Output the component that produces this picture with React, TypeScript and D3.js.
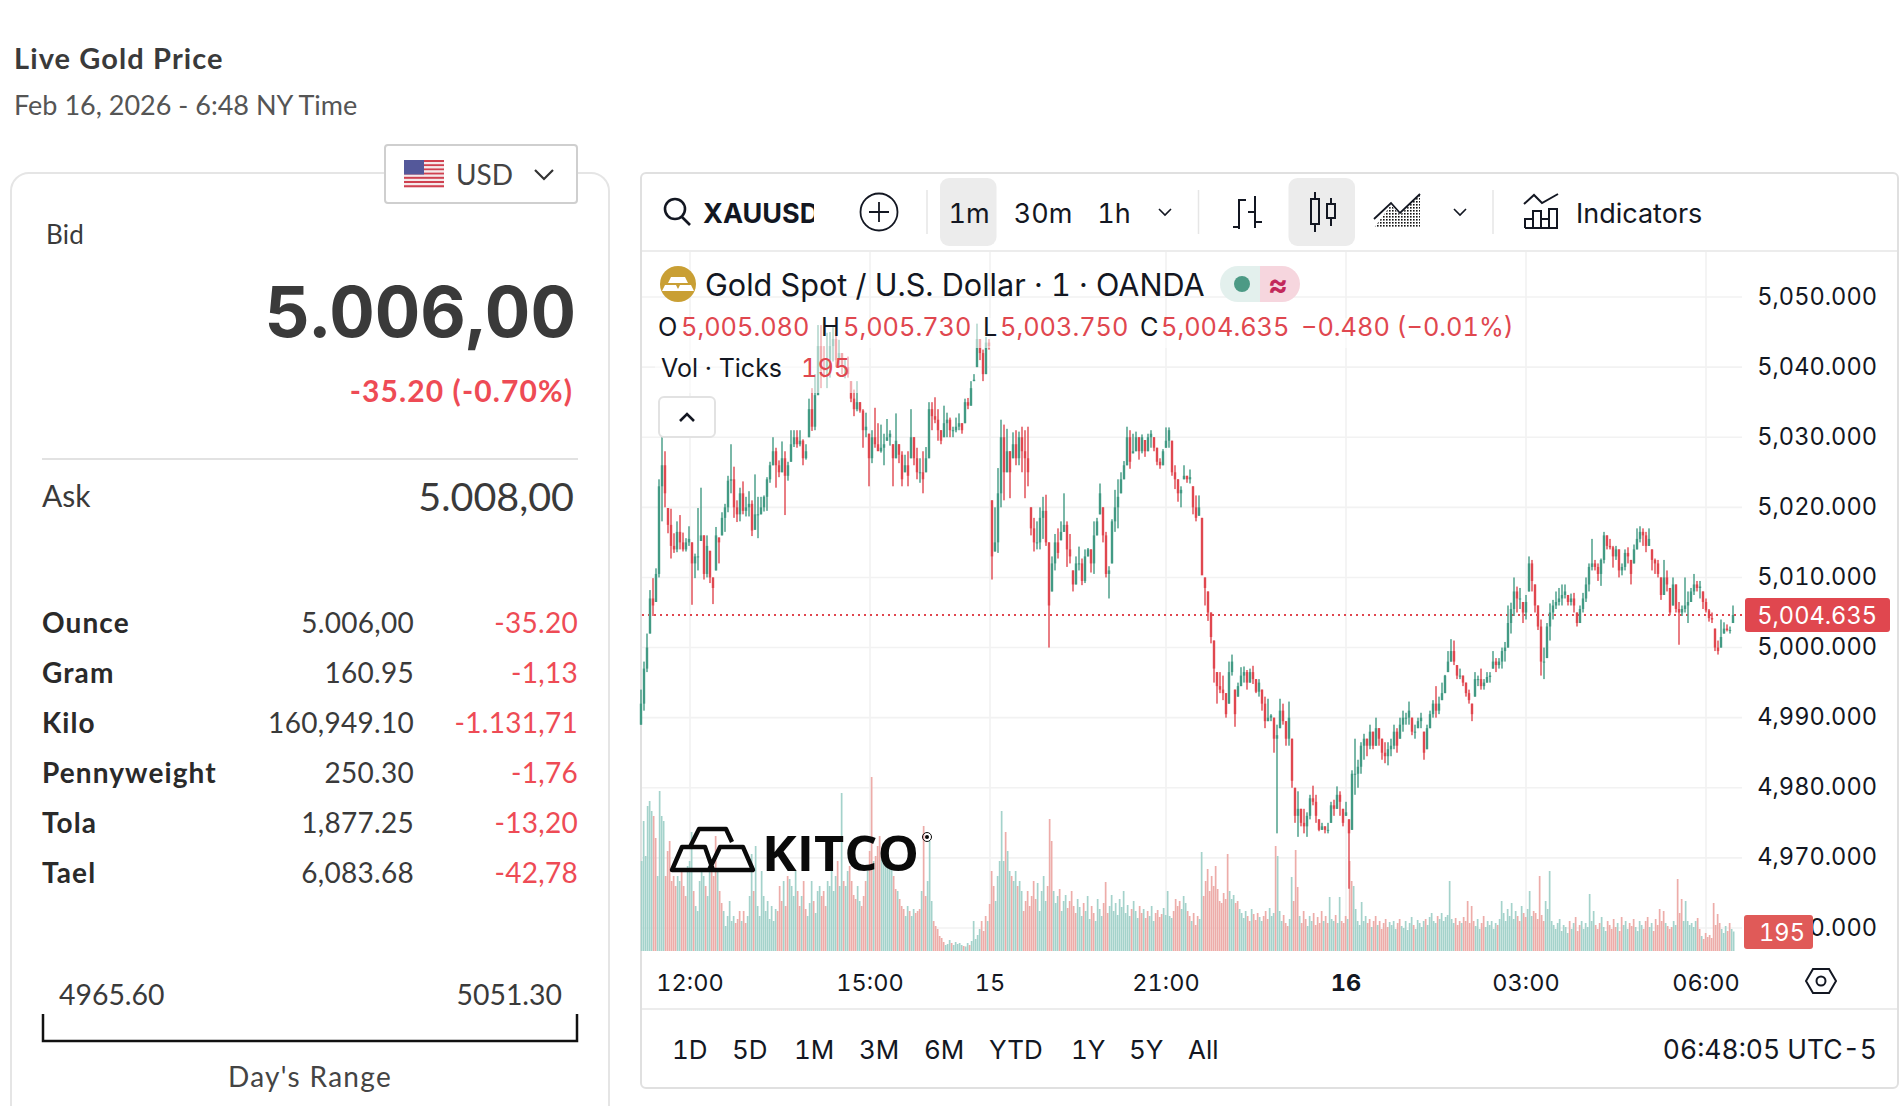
import React from "react";
import * as d3 from "d3";

// one bar every three minutes, starting at the left edge of the chart
const highs = [
  4994,4998,5002,5008.2,5009.9,5011.3,5024,5030.6,5028,5019.9,
  5019.8,5016.3,5018,5018.9,5016.4,5015.6,5017.3,5015,5013.4,5019.9,
  5022.8,5016,5016,5013.8,5010,5017.2,5015.7,5019.3,5020.5,5024.5,
  5029,5025.8,5021,5022.8,5023.7,5021.5,5022.3,5021,5024.7,5021.5,
  5021.5,5021.7,5024.3,5026.5,5030,5028.5,5026.7,5029.4,5028,5026.5,
  5031,5031,5031,5031,5029.7,5029,5035.5,5037,5039,5046,
  5046,5043,5044.9,5045,5046,5044.9,5043.9,5042,5041.3,5041.5,
  5038,5036.8,5038,5035,5034,5033.5,5030.5,5031,5034.2,5032,
  5031.8,5030.5,5032.6,5031,5029,5033.4,5029,5028,5027.5,5028,
  5034,5030,5028.5,5027,5028,5028.6,5035,5035,5035.7,5034,
  5031,5034.5,5033.5,5032.8,5031.5,5032.8,5033.4,5032,5035.5,5035.6,
  5038,5039,5046.2,5044,5042.5,5044.3,5044,5021,5020,5025.6,
  5032.5,5031.8,5031.2,5028,5030.7,5031,5030.8,5031.5,5031,5031.5,
  5020,5018.5,5018,5020,5021.5,5021.8,5015,5013,5016.2,5017,
  5018,5022,5018,5016.2,5011,5013,5014.4,5012.7,5014,5014.2,
  5014,5018,5018.5,5023.4,5020,5016.5,5011.6,5018.3,5022.5,5024,
  5025,5026.6,5031.5,5031,5030.5,5030.8,5030,5030.4,5029.6,5030.5,
  5031,5030,5028.5,5027,5028.3,5031.4,5031.4,5029.5,5026,5024,
  5023,5026,5024.5,5025.4,5023,5021.7,5021.7,5018.5,5010,5008,
  5005,5001,4996.5,4996.5,4996,4993.5,4998,4999,4994,4995,
  4997.2,4997.3,4996.8,4997,4997.4,4995.5,4995.5,4994,4993,4992.7,
  4990.5,4990,4989,4992.7,4992,4989.5,4992.3,4987,4980,4979.5,
  4977,4977,4976.5,4979,4980.3,4979,4975.5,4975,4974.5,4975,
  4978,4978.3,4980.2,4979.5,4977,4978,4975.5,4982.5,4987,4984,
  4986.5,4987.7,4987,4989,4988,4990,4988.5,4987,4986.5,4986.5,
  4987,4989,4988.5,4990,4991,4990.7,4992.3,4990,4989,4990,
  4990.7,4988,4989,4991,4992.5,4994.5,4993,4995,4996.1,4999.5,
  5001.2,5001,4997.5,4997,4996,4995,4994,4992,4996.5,4996,
  4997,4995.5,4996.5,4996.5,4999.5,4998.5,4998.5,5000,5000.8,5006,
  5006.4,5010,5008.7,5008.5,5006.5,5007.5,5013,5012.5,5009,5006,
  5004,5000,5003.5,5006.3,5006.8,5008,5008.5,5009,5009,5007.5,
  5007.7,5007.8,5005,5006,5007.8,5010,5012,5015.5,5012.5,5012,
  5012.7,5016.5,5016,5015.5,5014.5,5014.5,5014,5012,5014,5014.3,
  5012.5,5014.7,5017,5017.3,5017,5016.5,5017,5014,5012.7,5012.5,
  5010,5012.5,5011,5008.5,5010,5009,5006.5,5006,5010,5008,
  5008.5,5010.5,5009.5,5009.5,5008,5007,5005.5,5005,5002.7,5001,
  5004,5003.6,5003.3,5003,5006,
];

const lows = [
  4989,4991,4996.5,5002,5004.5,5006.5,5010,5018,5020,5016.3,
  5012.7,5013.5,5013.6,5014,5013.7,5013.7,5014.5,5006.1,5009.9,5011,
  5015.2,5009.7,5010,5009.2,5006.2,5011,5012,5016,5016.5,5019.3,
  5022,5018.5,5017.9,5018,5019,5018.7,5018.7,5015.9,5016.8,5015.6,
  5019,5019.4,5019.5,5023.5,5026,5022.8,5024.3,5025,5018.9,5023.8,
  5026.5,5028.6,5028.5,5028.7,5026,5026.8,5030,5030.9,5031,5036,
  5037,5038.5,5037,5038.5,5040.8,5040,5040,5039,5038.4,5038.5,
  5035,5033,5033.7,5033.5,5028.5,5030,5023,5026.3,5028.5,5028.9,
  5027.8,5026,5029.5,5028.8,5023,5027,5026.3,5023,5025,5023,
  5027,5026,5024,5023.5,5022,5025,5027,5031,5032,5029.5,
  5029,5030,5030,5030,5030,5030.7,5031,5030.5,5032,5034,
  5034.5,5038,5040,5041,5038,5039,5042.5,5009.7,5013.7,5013.5,
  5020,5021,5025,5021.3,5027,5026,5026,5025,5021.3,5023,
  5016,5013.7,5014,5014,5015.5,5014.5,5000,5008,5011,5012.7,
  5015.3,5016.5,5011.5,5012,5008,5009,5011,5008.9,5009.2,5013,
  5010.7,5010.5,5016,5019,5015,5010,5007,5012,5016.5,5017,
  5022,5024,5026,5025.5,5027.7,5028,5026.8,5027.7,5027.2,5028,
  5028.5,5028,5026,5025.5,5026,5028.5,5028.5,5024.5,5022.6,5020.8,
  5020,5024,5023.5,5023.4,5019,5018,5018.8,5010.4,5006,5003.8,
  5000.6,4995,4992,4993.5,4992.5,4990,4992,4996,4988.7,4993,
  4994.5,4995,4994,4995,4994.8,4993.5,4993,4991,4988.5,4989.5,
  4989.5,4985,4973.5,4988.5,4989,4986,4986,4980,4975,4973,
  4974.5,4973.5,4973,4975.5,4977.5,4975,4973.8,4974,4973.5,4973.5,
  4975,4976,4977,4976,4974.5,4976,4965.6,4974,4979,4980,
  4982,4984,4984.5,4985.5,4985.5,4986,4986,4984,4983.5,4983.2,
  4984.5,4985.5,4985,4987,4988,4989,4989,4987.5,4987,4988.5,
  4988.5,4984,4985.5,4988.5,4990,4990,4990.5,4992.5,4993.5,4996.5,
  4998,4997.5,4995.5,4995.5,4994.5,4993,4992,4989.5,4993,4994.5,
  4994,4994,4995,4995,4997,4996.5,4997,4997,4998,5000,
  5002,5004.5,5005,5005.5,5003.5,5004,5008,5008,5005,5002.5,
  4996,4995.5,4998.5,5001,5004,5005.5,5006,5006,5007,5006,
  5006,5005,5003,5003.5,5005,5006.5,5008,5011,5011,5009.5,
  5008.8,5012,5014,5014,5011.4,5012.5,5010,5010.3,5011,5012,
  5009,5012,5014,5015,5014.5,5013.6,5014.5,5011,5010.5,5010,
  5006.8,5007.5,5008,5004.6,5006,5005,5000.4,5004.5,5005,5003.5,
  5006.5,5007.5,5008,5007,5005.5,5005,5003.7,5003.5,4999.5,4999,
  5000,5002,5002.3,5002,5003.5,
];

const closes = [
  4992,4997,5000,5007,5006,5010.5,5023,5026,5022,5017.5,
  5014.5,5014,5016.5,5015,5014,5015,5015.5,5012,5013,5013,
  5016,5010.5,5014.5,5010,5008.5,5016,5015,5018.5,5020,5023.8,
  5024,5020,5019,5022,5019.5,5020,5020.5,5016.7,5019,5019,
  5020,5021.5,5024,5026,5028,5026,5025,5027,5024.5,5026,
  5029,5030,5029,5029.5,5027,5028,5034,5031.5,5036,5043,
  5040,5039.5,5041,5043,5044,5041,5042,5040,5040,5039,
  5035.5,5034,5035,5033.8,5031,5031.5,5027,5030,5029,5028,
  5028.5,5029,5030,5030.5,5027,5029.5,5027.5,5024,5026,5024.5,
  5030,5027,5025,5025,5024,5027,5034,5033,5032.5,5031,
  5029.5,5032,5032.5,5031,5031,5031.5,5032,5031,5035,5034.5,
  5037,5038.2,5044,5042,5039,5043.5,5043,5013,5015,5022,
  5030,5025,5028,5025,5029,5027,5030,5028,5027,5025,
  5017,5015,5015,5018.5,5019.5,5015,5006,5012,5015,5013.5,
  5016.5,5017.5,5014,5013,5009,5012,5012,5009.5,5013,5014,
  5012,5016,5018,5022,5016,5010.5,5011,5018,5020,5021.5,
  5024,5026,5030,5026.5,5028,5030,5028,5030,5028,5030,
  5030.5,5028.5,5026.5,5026,5028,5029.5,5031,5025,5024,5022,
  5022.5,5024.5,5024,5024.3,5020,5018.5,5020,5010.3,5008.5,5005,
  5001.5,4997,4994.5,4994,4993.5,4990.5,4996.5,4998,4990.5,4994.5,
  4996,4996.5,4995,4996.5,4995.5,4993.7,4995,4992,4989.5,4990,
  4990.3,4987,4987.5,4991,4989.5,4987,4990,4981,4976,4977,
  4975,4974.5,4976,4978.5,4978,4976,4974,4974.5,4974,4974,
  4977.5,4977,4979,4978,4975,4976.5,4973.5,4982,4982,4983,
  4986,4987,4986,4988,4986,4988.5,4987,4985,4984.5,4985.5,
  4986,4988,4986,4989,4990,4990,4991,4988,4988,4989.5,
  4990,4985,4988.5,4990.5,4992,4991,4992,4993.5,4996,4998,
  4999.5,4998,4996,4996,4995,4993.5,4992.5,4990.5,4995.5,4995.5,
  4994.5,4995,4995.8,4996,4998,4997.5,4998,4999.5,5000,5003.5,
  5005.5,5008,5007,5007,5005,5006.5,5012,5009.5,5006,5003,
  4998,4998,5003,5005,5006,5006.5,5007,5007.5,5008,5006.5,
  5007,5006,5003.5,5005.5,5007,5009,5011.5,5012,5011.5,5010.5,
  5012.5,5016,5014.5,5014.3,5013,5014,5011,5011.5,5013.5,5013,
  5010.5,5014,5015.5,5016.5,5016,5014.5,5015.5,5012.5,5012,5010.5,
  5007.5,5010,5009,5005,5009,5005.5,5005,5005.5,5006,5006.5,
  5008,5009,5008.5,5008.7,5006.5,5005.3,5004.2,5004,5000,4999.5,
  5001.5,5002.7,5002.5,5002.5,5004.635,
];

// ticks per bar, one volume bar every two minutes
const volumes = [
  900,1300,950,1450,1500,1400,1350,1130,750,1600,1350,1300,750,1000,1100,700,750,650,750,700,800,650,550,850,900,
  1190,600,450,400,700,800,750,650,550,800,850,750,1150,800,600,480,400,250,350,500,300,350,280,320,400,
  300,400,280,350,550,970,600,1050,450,350,800,550,400,500,320,450,300,420,400,650,500,700,450,750,720,
  650,550,800,600,450,550,700,420,350,480,700,500,380,600,650,550,600,450,700,650,800,600,750,900,650,
  1580,700,650,800,850,700,560,520,650,500,450,550,700,800,1000,1740,900,950,1050,1150,1000,950,1100,1000,900,
  850,750,620,600,520,450,420,350,450,400,350,420,380,400,420,600,1250,550,700,1100,500,300,250,220,150,
  130,90,60,70,110,80,60,90,70,80,60,50,45,80,60,100,300,120,160,220,300,200,350,300,470,
  800,650,500,750,900,1400,900,1190,1000,800,750,700,800,650,700,600,400,500,600,450,550,700,520,680,400,
  600,750,500,650,1320,1100,600,480,550,620,400,500,560,430,500,600,450,380,520,440,350,480,400,550,320,
  450,380,300,520,420,350,480,690,380,450,560,400,480,360,520,440,600,380,460,350,420,500,400,330,450,
  380,420,330,400,350,450,300,380,410,340,370,430,360,600,350,330,400,520,450,500,420,550,480,400,350,
  300,380,260,350,320,990,550,700,820,600,750,650,850,620,500,480,580,520,970,600,520,560,480,500,420,
  380,330,400,350,300,420,370,310,380,340,300,350,400,320,430,350,380,1050,950,400,300,360,280,250,320,
  740,500,1010,640,350,280,400,320,250,350,300,380,260,340,280,400,300,350,280,540,320,300,360,280,540,
  300,280,350,320,900,700,650,420,300,260,490,300,350,280,320,240,300,350,260,300,220,280,320,240,290,
  260,300,220,280,320,250,230,300,210,280,340,260,220,310,280,240,300,320,260,340,380,300,280,350,320,
  380,300,340,360,700,320,280,330,260,300,280,340,300,500,280,450,300,250,320,220,280,350,240,300,260,
  300,220,280,260,320,500,380,300,420,350,480,320,400,350,300,450,380,340,420,600,350,400,380,320,750,
  360,300,500,420,800,300,260,220,280,320,200,260,240,180,300,220,280,340,200,260,300,220,280,240,570,
  300,400,260,220,280,340,240,200,300,260,220,320,240,280,200,340,260,300,220,280,250,320,240,200,300,
  260,220,300,340,240,280,200,320,260,420,300,400,280,250,220,240,300,260,720,380,520,300,500,300,260,
  280,240,300,330,220,150,120,180,140,160,130,480,260,370,280,220,180,250,200,280,220,195,
];

const priceTicks = [5050, 5040, 5030, 5020, 5010, 5000, 4990, 4980, 4970, 4960];
const timeLabels = ["12:00", "15:00", "15", "21:00", "16", "03:00", "06:00"];
const timeMinutes = [49, 229, 349, 525, 705, 885, 1065];
const lastPrice = 5004.635;
const lastVolume = 195;

const unitNames = ["Ounce", "Gram", "Kilo", "Pennyweight", "Tola", "Tael"];
const unitPrices = ["5.006,00", "160.95", "160,949.10", "250.30", "1,877.25", "6,083.68"];
const unitChanges = ["-35.20", "-1,13", "-1.131,71", "-1,76", "-13,20", "-42,78"];
const ranges = ["1D", "5D", "1M", "3M", "6M", "YTD", "1Y", "5Y", "All"];
const rangeX = [672, 732, 794, 859, 924, 989, 1071, 1129, 1188];

const UP = "#429a84";
const DOWN = "#e0474f";
const RED = "#ee4b55";
const INK = "#131722";
const PANEL = "Lato, sans-serif";
const CHART = "Inter, sans-serif";

const x = d3.scaleLinear().domain([0, 1094]).range([641, 1735]);
const y = d3.scaleLinear().domain([4960, 5050]).range([928, 297]);
const yVol = d3.scaleLinear().domain([0, 1740]).range([951, 777]);
const fmt = d3.format(",.3f");

const bars = highs.map((h, i) => {
  const open = i === 0 ? lows[0] : Math.min(h, Math.max(lows[i], closes[i - 1]));
  return { i, high: h, low: lows[i], open, close: closes[i], up: closes[i] >= open };
});

const T = ({ x, y, s, f = CHART, w = 400, c = INK, a = "start", ls = 0, children }: any) => (
  <text x={x} y={y} fontSize={s} fontFamily={f} fontWeight={w} fill={c} textAnchor={a}
    letterSpacing={ls} style={f === CHART ? { fontVariantNumeric: "tabular-nums" } : undefined}>{children}</text>
);

const Flag = () => (
  <g>
    {d3.range(13).map((k) => (
      <rect key={k} x={404} y={160 + k * 2.1} width={40} height={2.1} fill={k % 2 ? "#f4e9ea" : "#cf4150"} />
    ))}
    <rect x={404} y={160} width={20} height={14.5} fill="#54589a" />
  </g>
);

const Logo = () => (
  <g>
    <path
      d="M672 870L682 847H705L713 870ZM709 870L720 847H743L753 870ZM690 847L699 829H726L732 842"
      fill="none" stroke="#0a0a0a" strokeWidth={4.4} strokeLinejoin="round" />
    <text x={762} y={871} fontSize={48} fontFamily="'Open Sans', sans-serif" fontWeight={700} fill="#0a0a0a"
      textLength={157} lengthAdjust="spacingAndGlyphs">KITCO</text>
    <circle cx={927} cy={837} r={4.5} fill="none" stroke="#0a0a0a" strokeWidth={1} />
    <circle cx={927} cy={837} r={2} fill="#0a0a0a" />
  </g>
);

const Toolbar = () => (
  <g>
    <circle cx={675} cy={209} r={10} fill="none" stroke={INK} strokeWidth={2.6} />
    <line x1={682} y1={217} x2={690} y2={225} stroke={INK} strokeWidth={2.6} />
    <clipPath id="sym"><rect x={700} y={190} width={114} height={40} /></clipPath>
    <g clipPath="url(#sym)"><T x={703} y={223} s={27} w={700}>XAUUSD</T></g>
    <circle cx={879} cy={212} r={18.5} fill="none" stroke={INK} strokeWidth={1.8} />
    <path d="M879 202V222M869 212H889" stroke={INK} strokeWidth={1.8} />
    <path d="M927 190V234M1198.5 190V234M1493 190V234" stroke="#e6e6e6" strokeWidth={1.5} />
    <rect x={940} y={178} width={56.5} height={68} rx={9} fill="#ececec" />
    <rect x={1288.5} y={178} width={66.5} height={68} rx={9} fill="#ececec" />
    <T x={969} y={223} s={27} a="middle">1m</T>
    <T x={1043} y={223} s={27} a="middle">30m</T>
    <T x={1114} y={223} s={27} a="middle">1h</T>
    <path d="M1159 209L1165 215L1171 209M1454 209L1460 215L1466 209" fill="none" stroke={INK} strokeWidth={1.6} />
    <path d="M1239 199V229M1239 200H1246M1233 227H1239M1255 196V228M1248 212H1255M1255 222H1262" fill="none" stroke={INK} strokeWidth={2} />
    <path d="M1315 192V232M1331 198V226" stroke={INK} strokeWidth={2} />
    <rect x={1311} y={199} width={8} height={25} fill="#ececec" stroke={INK} strokeWidth={2} />
    <rect x={1327} y={204} width={8} height={14} fill="#ececec" stroke={INK} strokeWidth={2} />
    <pattern id="dots" width={3} height={3} patternUnits="userSpaceOnUse">
      <rect width={1.6} height={1.6} fill="#111" />
    </pattern>
    <path d="M1374 228L1391 205L1400 215L1420 194V228Z" fill="url(#dots)" />
    <path d="M1374 219L1391 203L1400 213L1420 194" fill="none" stroke={INK} strokeWidth={1.8} />
    <path d="M1524 204L1534 195L1542 203L1558 194" fill="none" stroke={INK} strokeWidth={2} />
    <path d="M1525 228V219H1533V228M1533 228V211H1541V228M1541 228V219H1549V228M1549 228V209H1557V228ZM1525 228H1557" fill="none" stroke={INK} strokeWidth={2} />
    <T x={1576} y={223} s={27}>Indicators</T>
  </g>
);

const Legend = () => (
  <g>
    <rect x={655} y={318} width={865} height={30} fill="#fff" opacity={0.55} />
    <rect x={655} y={348} width={205} height={45} fill="#fff" opacity={0.55} />
    <circle cx={678} cy={284} r={18} fill="#c99f34" />
    <path d="M671 277H685L688 283H668ZM662 291L665 285H676L679 291ZM677 291L680 285H691L694 291Z" fill="#fff" />
    <T x={705} y={296} s={30.6}>Gold Spot / U.S. Dollar · 1 · OANDA</T>
    <path d="M1238 266H1260V302H1238A18 18 0 0 1 1238 266Z" fill="#e3f0ed" />
    <path d="M1260 266H1282A18 18 0 0 1 1282 302H1260Z" fill="#f6d6de" />
    <circle cx={1242} cy={284} r={8} fill="#4c9a85" />
    <T x={1278} y={295} s={30} c="#c2285a" a="middle" w={700}>≈</T>
    <T x={658} y={336} s={25.3}>O</T><T x={681} y={336} s={25.3} c={DOWN}>5,005.080</T>
    <T x={821} y={336} s={25.3}>H</T><T x={843} y={336} s={25.3} c={DOWN}>5,005.730</T>
    <T x={983} y={336} s={25.3}>L</T><T x={1000} y={336} s={25.3} c={DOWN}>5,003.750</T>
    <T x={1140} y={336} s={25.3}>C</T><T x={1161} y={336} s={25.3} c={DOWN}>5,004.635</T>
    <T x={1301} y={336} s={25.3} c={DOWN}>−0.480 (−0.01%)</T>
    <T x={661} y={377} s={25}>Vol · Ticks</T>
    <T x={801} y={377} s={25.3} c={DOWN}>{lastVolume}</T>
    <rect x={659} y={397} width={56} height={40} rx={5} fill="#fff" stroke="#e2e2e2" strokeWidth={2} />
    <path d="M680 421L687 414L694 421" fill="none" stroke={INK} strokeWidth={2.6} />
  </g>
);

const App = () => (
  <svg width={1904} height={1106} style={{ position: "absolute", left: 0, top: 0, display: "block" }}>
    <rect width={1904} height={1106} fill="#fff" />

    {/* left panel */}
    <T x={14} y={69} s={29} f={PANEL} w={700} c="#3a3a3a" ls={1.1}>Live Gold Price</T>
    <T x={14} y={115} s={27} f={PANEL} c="#555">Feb 16, 2026 - 6:48 NY Time</T>
    <rect x={11} y={173} width={598} height={1000} rx={18} fill="none" stroke="#e5e5e5" strokeWidth={2} />
    <rect x={385} y={145} width={192} height={58} rx={3} fill="#fff" stroke="#cfcfcf" strokeWidth={2} />
    <Flag />
    <T x={456} y={185} s={28} f={PANEL} c="#444">USD</T>
    <path d="M535 170L544 179L553 170" fill="none" stroke="#333" strokeWidth={2.2} />
    <T x={46} y={244} s={26} f={PANEL} c="#3a3a3a" ls={0.2}>Bid</T>
    <T x={576} y={337} s={70.5} f={CHART} w={700} c="#3a3a3a" a="end">5.006,00</T>
    <T x={573} y={402} s={30} f={PANEL} w={700} c={RED} a="end" ls={1.1}>-35.20 (-0.70%)</T>
    <line x1={42} x2={578} y1={459} y2={459} stroke="#e2e2e2" strokeWidth={2} />
    <T x={42} y={507} s={30} f={PANEL} c="#3a3a3a">Ask</T>
    <T x={574} y={511} s={39.5} f={PANEL} c="#3a3a3a" a="end">5.008,00</T>
    {unitNames.map((n, k) => {
      const rowY = 633 + k * 50;
      return (
        <g key={n}>
          <T x={42} y={rowY} s={28} f={PANEL} w={700} c="#2a2a2a" ls={1.1}>{n}</T>
          <T x={414} y={rowY} s={28} f={PANEL} c="#3a3a3a" a="end" ls={0.3}>{unitPrices[k]}</T>
          <T x={578} y={rowY} s={28} f={PANEL} c={RED} a="end" ls={0.3}>{unitChanges[k]}</T>
        </g>
      );
    })}
    <T x={59} y={1005} s={28.4} f={PANEL} c="#3a3a3a">4965.60</T>
    <T x={562} y={1005} s={28.4} f={PANEL} c="#3a3a3a" a="end">5051.30</T>
    <path d="M43 1014V1041H577V1014" fill="none" stroke="#111" strokeWidth={2.5} />
    <T x={310} y={1087} s={28} f={PANEL} c="#444" a="middle" ls={1.3}>Day's Range</T>

    {/* chart panel */}
    <rect x={641} y={173} width={1257} height={915} rx={5} fill="#fff" stroke="#e0e0e0" strokeWidth={2} />
    <line x1={642} x2={1897} y1={251} y2={251} stroke="#ececec" strokeWidth={2} />
    <line x1={642} x2={1897} y1={1009} y2={1009} stroke="#ececec" strokeWidth={2} />
    <Toolbar />

    {timeMinutes.map((m) => (
      <line key={m} x1={x(m)} x2={x(m)} y1={252} y2={951} stroke="#f2f2f2" strokeWidth={1.6} />
    ))}
    {priceTicks.map((p) => (
      <line key={p} x1={642} x2={1742} y1={y(p)} y2={y(p)} stroke="#f2f2f2" strokeWidth={1.6} />
    ))}

    {volumes.map((v, i) => {
      const bar = bars[Math.min(bars.length - 1, Math.floor((i * 2) / 3))];
      return (
        <rect key={i} x={x(i * 2) - 0.2} width={1.7} y={yVol(v)} height={yVol(0) - yVol(v)}
          fill={bar.up ? "#9fd0c8" : "#eca8a4"} opacity={0.95} />
      );
    })}
    <Logo />

    <line x1={642} x2={1747} y1={y(lastPrice)} y2={y(lastPrice)} stroke={DOWN} strokeWidth={2} strokeDasharray="2 4" />
    {bars.map((b) => (
      <g key={b.i} fill={b.up ? UP : DOWN}>
        <rect x={x(b.i * 3) - 0.7} width={1.4} y={y(b.high)} height={Math.max(1, y(b.low) - y(b.high))} />
        <rect x={x(b.i * 3) - 1.2} width={2.4} y={y(Math.max(b.open, b.close))}
          height={Math.max(1, Math.abs(y(b.open) - y(b.close)))} />
      </g>
    ))}

    <Legend />

    {priceTicks.map((p) => (
      <T key={p} x={1877} y={y(p) + 7.5} s={23.6} a="end">{fmt(p)}</T>
    ))}
    <rect x={1745} y={598} width={145} height={34} rx={3} fill={DOWN} />
    <T x={1877} y={624} s={23.6} c="#fff" a="end">{fmt(lastPrice)}</T>
    <rect x={1744} y={915} width={69} height={34} rx={3} fill="#e05a58" />
    <T x={1782} y={941} s={23.6} c="#fff" a="middle">{lastVolume}</T>

    {timeLabels.map((t, k) => (
      <T key={t} x={x(timeMinutes[k])} y={990.5} s={23.5} a="middle" w={t === "16" ? 700 : 400}>{t}</T>
    ))}
    <path d="M1806 981L1813 969H1829L1836 981L1829 993H1813Z" fill="none" stroke={INK} strokeWidth={2} />
    <circle cx={1821} cy={981} r={4.5} fill="none" stroke={INK} strokeWidth={2} />

    {ranges.map((r, k) => (
      <T key={r} x={rangeX[k]} y={1059} s={26}>{r}</T>
    ))}
    <T x={1877} y={1059} s={26.5} a="end">06:48:05 UTC-5</T>
  </svg>
);

export default App;
